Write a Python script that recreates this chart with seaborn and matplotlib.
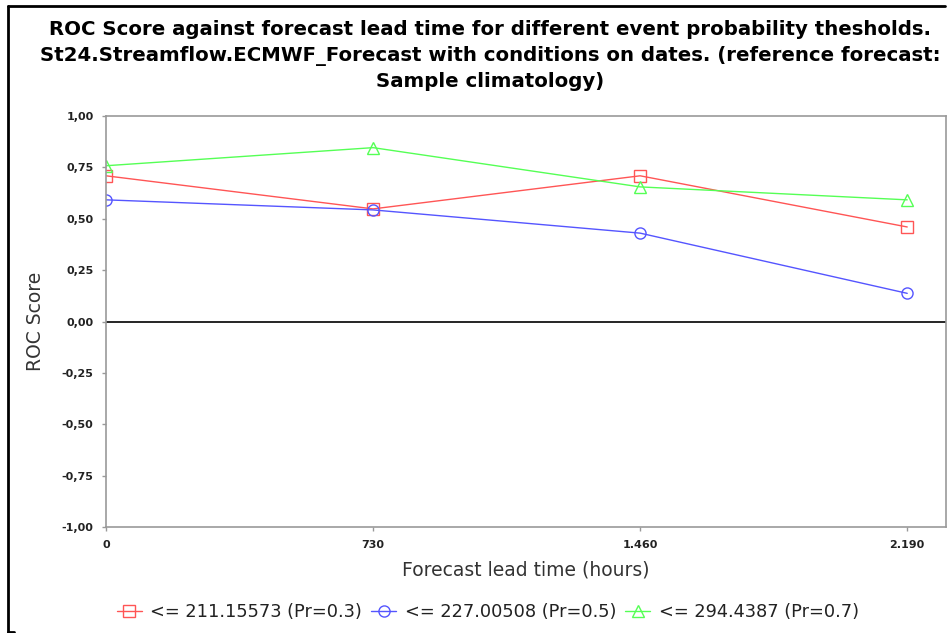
import matplotlib
matplotlib.use("Agg")
import matplotlib.pyplot as plt
from matplotlib.ticker import FuncFormatter, FixedLocator
from matplotlib.lines import Line2D
import pandas as pd
import seaborn as sns

# Forecast lead times (hours) and ROC scores per event threshold
lead_time = [0, 730, 1460, 2190]
roc_pr03 = [0.709, 0.548, 0.709, 0.460]
roc_pr05 = [0.592, 0.543, 0.430, 0.137]
roc_pr07 = [0.758, 0.846, 0.655, 0.592]
series_names = [
    "<= 211.15573 (Pr=0.3)",
    "<= 227.00508 (Pr=0.5)",
    "<= 294.4387 (Pr=0.7)",
]
series_values = [roc_pr03, roc_pr05, roc_pr07]
series_colors = ["#ff5555", "#5555ff", "#55ff55"]
series_markers = ["s", "o", "^"]

title_text = ("ROC Score against forecast lead time for different event probability thesholds.\n"
              "St24.Streamflow.ECMWF_Forecast with conditions on dates. (reference forecast:\n"
              "Sample climatology)")

rows = []
for name, vals in zip(series_names, series_values):
    for t, v in zip(lead_time, vals):
        rows.append({"lead": t, "score": v, "series": name})
df = pd.DataFrame(rows)

sns.set_theme(style="white")
plt.rcParams["font.family"] = ["DejaVu Sans"]

fig = plt.figure(figsize=(9.49, 6.33), dpi=100)
ax = fig.add_axes([106 / 949, 1 - 527 / 633, (946 - 106) / 949, (527 - 116) / 633])

palette = dict(zip(series_names, series_colors))
markers = dict(zip(series_names, series_markers))
sns.lineplot(data=df, x="lead", y="score", hue="series", style="series",
             palette=palette, markers=markers, dashes=False, ax=ax,
             linewidth=1.0, markersize=8, legend=False)
for line in ax.lines:
    c = line.get_color()
    line.set_markerfacecolor("none")
    line.set_markeredgecolor(c)
    line.set_markeredgewidth(1.0)

ax.axhline(0, color="black", linewidth=1.2, zorder=1)

ax.set_xlim(0, 2296)
ax.set_ylim(-1.0, 1.0)
ax.xaxis.set_major_locator(FixedLocator(lead_time))
ax.yaxis.set_major_locator(FixedLocator([-1, -0.75, -0.5, -0.25, 0, 0.25, 0.5, 0.75, 1.0]))
ax.xaxis.set_major_formatter(FuncFormatter(lambda v, p: f"{int(round(v)):,}".replace(",", ".")))
ax.yaxis.set_major_formatter(FuncFormatter(lambda v, p: f"{v:.2f}".replace(".", ",")))
ax.tick_params(axis="both", which="major", direction="out", length=3, width=1,
               color="#999999", labelsize=8, labelcolor="#222222", pad=6,
               bottom=True, left=True)
for lbl in ax.get_xticklabels() + ax.get_yticklabels():
    lbl.set_fontweight("bold")
for s in ax.spines.values():
    s.set_color("#999999")
    s.set_linewidth(1.2)

ax.set_xlabel("Forecast lead time (hours)", fontsize=13.5, color="#333333", labelpad=8)
ax.set_ylabel("ROC Score", fontsize=13.5, color="#333333", labelpad=12)

fig.text(490 / 949, 0.968, title_text, ha="center", va="top", fontsize=14.2,
         fontweight="bold", linespacing=1.42, color="black")

handles = [Line2D([0], [0], color=c, marker=m, markerfacecolor="none",
                  markeredgecolor=c, markersize=8, linewidth=1.0)
           for c, m in zip(series_colors, series_markers)]
fig.legend(handles, series_names, loc="center",
           bbox_to_anchor=(488 / 949, 1 - 612 / 633),
           ncol=3, frameon=False, fontsize=12.8, handlelength=1.4,
           handletextpad=0.5, columnspacing=0.5,
           labelcolor="#222222")

# outer frame on left, top and bottom
fig.add_artist(Line2D([8 / 949, 8 / 949], [1 - 632 / 633, 1 - 6 / 633],
                      transform=fig.transFigure, color="black", linewidth=2))
fig.add_artist(Line2D([8 / 949, 945 / 949], [1 - 6 / 633, 1 - 6 / 633],
                      transform=fig.transFigure, color="black", linewidth=2))
fig.add_artist(Line2D([8 / 949, 14 / 949], [1 - 632 / 633, 1 - 632 / 633],
                      transform=fig.transFigure, color="black", linewidth=2))

fig.savefig("out.png", dpi=100)
